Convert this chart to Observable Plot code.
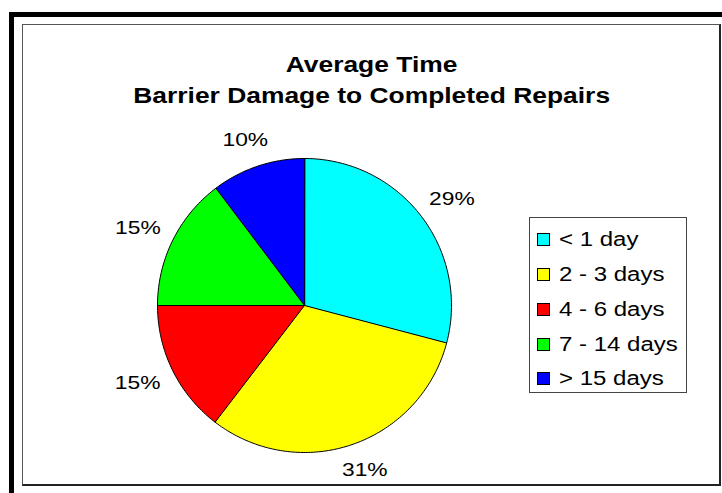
<!DOCTYPE html>
<html><head><meta charset="utf-8">
<script src="https://cdn.jsdelivr.net/npm/d3@7"></script>
<script src="https://cdn.jsdelivr.net/npm/@observablehq/plot@0.6"></script>
<style>
body{margin:0;background:#fff;}
#wrap{position:relative;width:722px;height:493px;overflow:hidden;background:#fff;font-family:"Liberation Sans",Arial,sans-serif;color:#000;}
#outer{position:absolute;left:9px;top:12px;width:800px;height:600px;border:5px solid #000;}
#inner{position:absolute;left:22px;top:24px;width:696px;height:459px;border:1px solid #555;border-right:2px solid #222;border-bottom:2px solid #222;background:#fff;}
#title{position:absolute;left:22px;width:700px;top:49px;text-align:center;font-weight:bold;font-size:22px;line-height:31px;}
#title span{display:inline-block;transform:scaleX(1.2);transform-origin:center;white-space:nowrap;}
#chart{position:absolute;left:0;top:0;}
#legend{position:absolute;left:529px;top:217px;width:156px;height:174px;border:1px solid #444;background:#fff;}
.item{position:absolute;left:7px;height:22px;display:flex;align-items:center;font-size:20px;white-space:nowrap;}
.item .tx{display:inline-block;transform:scaleX(1.2);transform-origin:left center;}
.sw{width:13px;height:13px;border:1px solid #000;margin-right:9px;box-sizing:border-box;}
</style>
</head><body>
<div id="wrap">
  <div id="outer"></div>
  <div id="inner"></div>
  <div id="chart"></div>
  <div id="title"></div>
  <div id="legend"></div>
</div>
<script>
// ---- data ----
const titleLines = ["Average Time", "Barrier Damage to Completed Repairs"];
const categories = ["< 1 day", "2 - 3 days", "4 - 6 days", "7 - 14 days", "> 15 days"];
const values = [29.1, 31.3, 14.6, 14.7, 10.3];
const labels = ["29%", "31%", "15%", "15%", "10%"];
const colors = ["#00FFFF", "#FFFF00", "#FF0000", "#00FF00", "#0000FF"];

// ---- title ----
const titleEl = document.getElementById("title");
titleLines.forEach((t, i) => {
  const s = document.createElement("span");
  s.textContent = t;
  titleEl.appendChild(s);
  if (i < titleLines.length - 1) titleEl.appendChild(document.createElement("br"));
});

// ---- build slices ----
const total = d3.sum(values);
let cum = 0;
const slices = categories.map((c, i) => {
  const a0 = cum / total * 2 * Math.PI;
  cum += values[i];
  const a1 = cum / total * 2 * Math.PI;
  return {cat: c, a0, a1, mid: (a0 + a1) / 2, label: labels[i]};
});
const pts = [];
for (const s of slices) {
  pts.push({cat: s.cat, x: 0, y: 0});
  const n = Math.max(2, Math.ceil((s.a1 - s.a0) / (Math.PI / 180)));
  for (let k = 0; k <= n; k++) {
    const a = s.a0 + (s.a1 - s.a0) * k / n;
    pts.push({cat: s.cat, x: Math.sin(a), y: Math.cos(a)});
  }
}

const chart = Plot.plot({
  width: 722, height: 493,
  margin: 0,
  x: {domain: [-1, 1], range: [157, 451], axis: null},
  y: {domain: [-1, 1], range: [452, 158], axis: null},
  color: {domain: categories, range: colors},
  style: {background: "transparent", overflow: "visible"},
  marks: [
    Plot.line(pts, {x: "x", y: "y", z: "cat", fill: "cat", stroke: "#000", strokeWidth: 1, curve: "linear-closed"}),
    Plot.text(slices, {
      x: d => Math.sin(d.mid) * 1.266,
      y: d => Math.cos(d.mid) * 1.185,
      text: "label", fontSize: 19, fill: "#000",
      fontFamily: "Liberation Sans, Arial, sans-serif"
    })
  ]
});
document.getElementById("chart").appendChild(chart);

// widen label glyphs horizontally about their anchor point
chart.querySelectorAll("text").forEach(t => {
  const x = t.getAttribute("x"), y = t.getAttribute("y");
  const tr = t.getAttribute("transform");
  if (x !== null && y !== null) {
    t.setAttribute("transform", (tr ? tr + " " : "") + `translate(${x},${y}) scale(1.2,1) translate(${-x},${-y})`);
  } else if (tr) {
    t.setAttribute("transform", tr + " scale(1.2,1)");
  }
});

// legend
const leg = document.getElementById("legend");
const rowTops = [10, 45, 80, 115, 149];
categories.forEach((c, i) => {
  const it = document.createElement("div");
  it.className = "item";
  it.style.top = rowTops[i] + "px";
  const sw = document.createElement("span");
  sw.className = "sw";
  sw.style.background = colors[i];
  const t = document.createElement("span");
  t.className = "tx";
  t.textContent = c;
  it.appendChild(sw); it.appendChild(t);
  leg.appendChild(it);
});
</script>
</body></html>
